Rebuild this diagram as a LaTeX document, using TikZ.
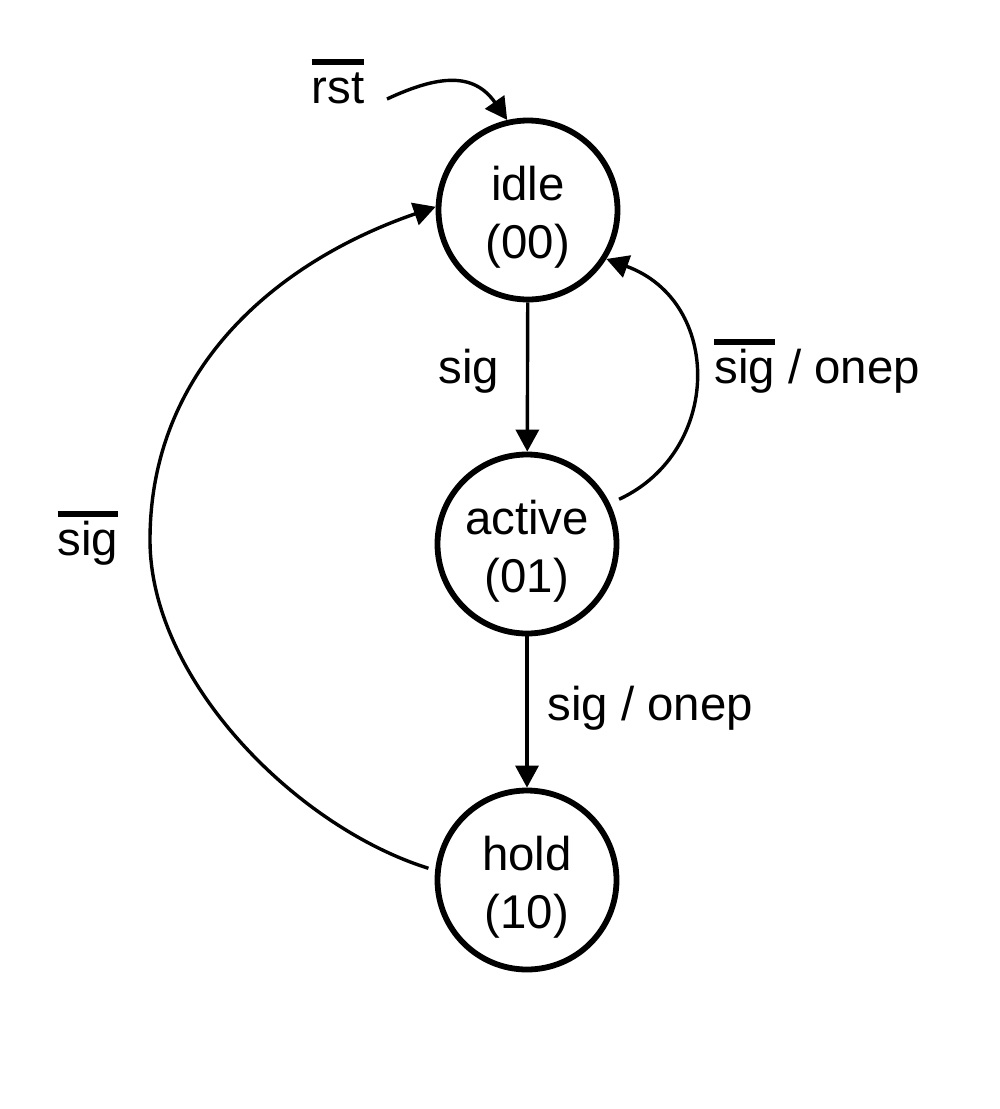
\documentclass[tikz,border=0pt]{standalone}
\usepackage{fontspec}
\setmainfont{Liberation Sans}
\usetikzlibrary{arrows.meta}
\newcommand\negbar[1]{\setbox0=\hbox{#1}\rlap{\raisebox{19pt}{\rule{\wd0}{2.8pt}}}\box0\relax}
\newcommand\sttext[2]{\raisebox{0pt}[24pt][34pt]{\begin{tabular}[t]{@{}c@{}}#1\\#2\end{tabular}}}
\newcommand\fsz{\fontsize{23.7pt}{29pt}\selectfont}
\begin{document}
\begin{tikzpicture}[x=0.5pt,y=0.5pt,
  state/.style={circle,draw,line width=2.9pt,minimum size=89.5pt,inner sep=0pt,font=\fsz},
  lbl/.style={inner sep=0pt,font=\fsz},
  edge/.style={line width=1.7pt,-{Triangle[length=11pt,width=11.5pt]}}]
\useasboundingbox (0,0) rectangle (1000,-1109);
\node[state] (idle)   at (528,-210) {\sttext{idle}{(00)}};
\node[state] (active) at (527,-544) {\sttext{active}{(01)}};
\node[state] (hold)   at (527,-880) {\sttext{hold}{(10)}};
\coordinate (rststart) at (387,-99);
\coordinate (leftmid) at (150,-540);
% edges
\draw[edge] (rststart) .. controls +(25:58) and +(125:58) .. (idle.103);
\draw[edge] (idle) -- (active);
\draw[edge] (active) -- (hold);
\draw[edge,shorten <=5pt] (active.26) .. controls +(25:124) and +(-20:124) .. (idle.-32);
\draw[edge,shorten <=3.5pt] (hold.174) .. controls +(162.7:145) and +(-90:140) .. (leftmid)
  .. controls +(90:170) and +(-161:170) .. (idle.178);
% labels
\node[lbl,anchor=base] (lrst) at (338,-103) {\negbar{rst}};
\node[lbl,anchor=base] (lsig) at (469,-383) {sig};
\node[lbl,anchor=base west] (lnsigonep) at (714,-383) {\negbar{sig} / onep};
\node[lbl,anchor=base west] (lsigonep) at (547,-720) {sig / onep};
\node[lbl,anchor=base] (lnsig) at (88,-555) {\negbar{sig}};
\end{tikzpicture}
\end{document}
